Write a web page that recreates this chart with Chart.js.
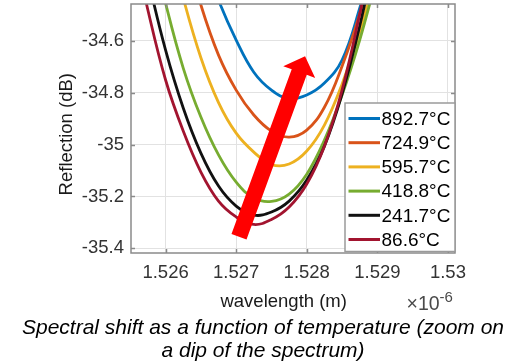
<!DOCTYPE html>
<html><head><meta charset="utf-8">
<script src="https://cdn.jsdelivr.net/npm/chart.js@4.4.1/dist/chart.umd.min.js"></script>
<style>html,body{margin:0;padding:0;background:#fff;overflow:hidden}canvas{display:block}</style>
</head><body>
<canvas id="c" width="525" height="364"></canvas>
<script>
// wavelength in units of 1e-6 m
const wavelengths = [1.5255, 1.52575, 1.526, 1.52625, 1.5265, 1.52675, 1.527, 1.52725, 1.5275, 1.52775, 1.528, 1.52825, 1.5285, 1.52875, 1.529];
const temperatureLabels = ['892.7°C', '724.9°C', '595.7°C', '418.8°C', '241.7°C', '86.6°C'];
const refl892 = [-33.268, -33.537, -33.788, -34.019, -34.247, -34.443, -34.597, -34.721, -34.790, -34.823, -34.809, -34.763, -34.674, -34.474, -34.224];
const refl725 = [-33.345, -33.653, -33.946, -34.216, -34.462, -34.655, -34.790, -34.886, -34.948, -34.971, -34.944, -34.856, -34.698, -34.497, -34.250];
const refl596 = [-33.557, -33.865, -34.166, -34.435, -34.665, -34.838, -34.956, -35.029, -35.077, -35.075, -35.025, -34.925, -34.767, -34.566, -34.308];
const refl419 = [-33.865, -34.166, -34.455, -34.705, -34.894, -35.040, -35.145, -35.206, -35.219, -35.191, -35.114, -34.983, -34.809, -34.597, -34.347];
const refl242 = [-34.042, -34.358, -34.636, -34.859, -35.033, -35.160, -35.237, -35.272, -35.260, -35.218, -35.137, -35.006, -34.805, -34.543, -34.231];
const refl87  = [-34.173, -34.482, -34.751, -34.948, -35.106, -35.218, -35.279, -35.308, -35.289, -35.241, -35.152, -35.006, -34.790, -34.497, -34.154];
const seriesValues = [refl892, refl725, refl596, refl419, refl242, refl87];
const seriesColors = ['#0072BD', '#D95319', '#EDB120', '#77AC30', '#111111', '#A2142F'];

const xTicks = [1.526, 1.527, 1.528, 1.529, 1.53];
const xTickLabels = ['1.526', '1.527', '1.528', '1.529', '1.53'];
const yTicks = [-35.4, -35.2, -35, -34.8, -34.6];
const yTickLabels = ['-35.4', '-35.2', '-35', '-34.8', '-34.6'];
const xRange = [1.52551, 1.5301];
const yRange = [-35.418, -34.458];

const arrowFrom = [1.52704, -35.355];
const arrowTo = [1.527976, -34.659];

const xTitle = 'wavelength (m)';
const yTitle = 'Reflection (dB)';
const xExponentBase = '×10';
const xExponent = '-6';
const captionLines = ['Spectral shift as a function of temperature (zoom on', 'a dip of the spectrum)'];

const FONT = '"Liberation Sans", Arial, Helvetica, sans-serif';

const datasets = seriesValues.map((vals, i) => ({
  label: temperatureLabels[i],
  data: wavelengths.map((w, j) => ({x: w, y: vals[j]})),
  borderColor: seriesColors[i],
  backgroundColor: seriesColors[i],
  borderWidth: 2.8,
  pointRadius: 0,
  tension: 0.4,
  fill: false,
  order: seriesValues.length - i
}));

const noPad = s => { s.paddingTop = 0; s.paddingBottom = 0; s.paddingLeft = 0; s.paddingRight = 0; };

const decor = {
  id: 'decor',
  afterDatasetsDraw(chart) {
    const {ctx, chartArea: a, scales: {x, y}} = chart;
    ctx.save();
    // arrow
    const x0 = x.getPixelForValue(arrowFrom[0]), y0 = y.getPixelForValue(arrowFrom[1]);
    const x1 = x.getPixelForValue(arrowTo[0]), y1 = y.getPixelForValue(arrowTo[1]);
    const dx = x1 - x0, dy = y1 - y0, L = Math.hypot(dx, dy);
    const ux = dx / L, uy = dy / L, px = -uy, py = ux;
    const sw = 8, hw = 17, hl = 17;
    const bx = x1 - ux * hl, by = y1 - uy * hl;
    ctx.fillStyle = '#FF0000';
    ctx.beginPath();
    ctx.moveTo(x0 + px * sw, y0 + py * sw);
    ctx.lineTo(bx + px * sw, by + py * sw);
    ctx.lineTo(bx + px * hw, by + py * hw);
    ctx.lineTo(x1, y1);
    ctx.lineTo(bx - px * hw, by - py * hw);
    ctx.lineTo(bx - px * sw, by - py * sw);
    ctx.lineTo(x0 - px * sw, y0 - py * sw);
    ctx.closePath();
    ctx.fill();

    // axes box and inner ticks
    ctx.strokeStyle = '#8a8a8a';
    ctx.lineWidth = 1.5;
    ctx.strokeRect(a.left, a.top, a.right - a.left, a.bottom - a.top);
    ctx.beginPath();
    xTicks.forEach(v => {
      const p = Math.round(x.getPixelForValue(v)) + 0.5;
      ctx.moveTo(p, a.bottom); ctx.lineTo(p, a.bottom - 4);
      ctx.moveTo(p, a.top); ctx.lineTo(p, a.top + 4);
    });
    yTicks.forEach(v => {
      const p = Math.round(y.getPixelForValue(v)) + 0.5;
      ctx.moveTo(a.left, p); ctx.lineTo(a.left + 4, p);
      ctx.moveTo(a.right, p); ctx.lineTo(a.right - 4, p);
    });
    ctx.stroke();

    // legend
    const lw = 110, lh = 148.5;
    const lx = a.right - lw, ly = a.bottom - lh - 1.5;
    ctx.fillStyle = '#ffffff';
    ctx.fillRect(lx, ly, lw, lh);
    ctx.strokeStyle = '#9a9a9a';
    ctx.lineWidth = 1.5;
    ctx.strokeRect(lx, ly, lw, lh);
    ctx.font = '19px ' + FONT;
    ctx.textAlign = 'left';
    ctx.textBaseline = 'middle';
    chart.data.datasets.forEach((ds, i) => {
      const cy = ly + 15.5 + i * 24.2;
      ctx.strokeStyle = ds.borderColor;
      ctx.lineWidth = 3;
      ctx.beginPath();
      ctx.moveTo(lx + 3.5, cy); ctx.lineTo(lx + 35, cy);
      ctx.stroke();
      ctx.fillStyle = '#000';
      ctx.fillText(ds.label, lx + 36.5, cy + 1);
    });
    ctx.restore();
  },
  afterDraw(chart) {
    const {ctx} = chart;
    ctx.save();
    // x title
    ctx.fillStyle = '#1a1a1a';
    ctx.font = '18.5px ' + FONT;
    ctx.textAlign = 'center';
    ctx.textBaseline = 'alphabetic';
    ctx.fillText(xTitle, 283.7, 306.5);
    // exponent
    ctx.fillStyle = '#4a4a4a';
    ctx.textAlign = 'left';
    ctx.font = '19.5px ' + FONT;
    ctx.fillText(xExponentBase, 406.5, 310);
    const w = ctx.measureText(xExponentBase).width;
    ctx.font = '15px ' + FONT;
    ctx.fillText(xExponent, 406.5 + w, 301.5);
    // y title
    ctx.fillStyle = '#1a1a1a';
    ctx.font = '18.5px ' + FONT;
    ctx.translate(71.5, 134.2);
    ctx.rotate(-Math.PI / 2);
    ctx.textAlign = 'center';
    ctx.fillText(yTitle, 0, 0);
    ctx.setTransform(1, 0, 0, 1, 0, 0);
    // caption
    ctx.fillStyle = '#000';
    ctx.font = 'italic 21px ' + FONT;
    ctx.textAlign = 'center';
    ctx.fillText(captionLines[0], 263, 334);
    ctx.fillText(captionLines[1], 263, 357);
    ctx.restore();
  }
};

new Chart(document.getElementById('c'), {
  type: 'line',
  data: {datasets},
  plugins: [decor],
  options: {
    responsive: false,
    animation: false,
    devicePixelRatio: 1,
    layout: {padding: {top: 4, right: 70, left: 0, bottom: 0}},
    plugins: {legend: {display: false}, tooltip: {enabled: false}, title: {display: false}},
    scales: {
      x: {
        type: 'linear',
        min: xRange[0], max: xRange[1],
        afterFit: s => { s.height = 111; noPad(s); },
        afterBuildTicks: s => { s.ticks = xTicks.map(v => ({value: v})); },
        grid: {color: '#e2e2e2', lineWidth: 1, drawTicks: false},
        border: {display: false},
        ticks: {
          autoSkip: false, maxRotation: 0, padding: 9, color: '#333',
          font: {family: FONT, size: 18.5},
          callback: (v, i) => xTickLabels[i]
        }
      },
      y: {
        type: 'linear',
        min: yRange[0], max: yRange[1],
        afterFit: s => { s.width = 131; noPad(s); },
        afterBuildTicks: s => { s.ticks = yTicks.map(v => ({value: v})); },
        grid: {color: '#e2e2e2', lineWidth: 1, drawTicks: false},
        border: {display: false},
        ticks: {
          autoSkip: false, padding: 7, color: '#333',
          font: {family: FONT, size: 18.5},
          callback: (v, i) => yTickLabels[i]
        }
      }
    }
  }
});
</script>
</body></html>
